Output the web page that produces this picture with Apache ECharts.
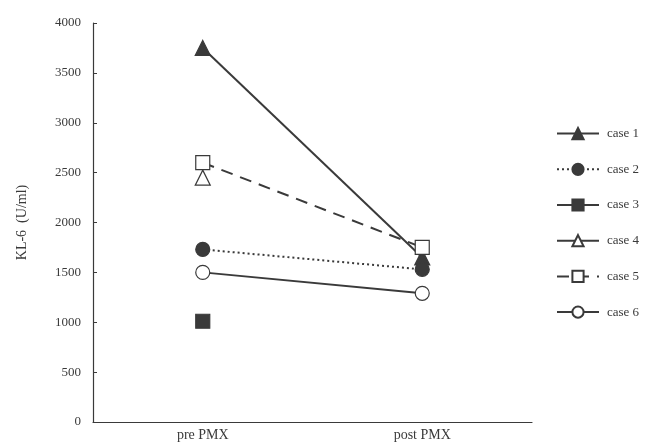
<!DOCTYPE html>
<html>
<head>
<meta charset="utf-8">
<script src="https://cdn.jsdelivr.net/npm/echarts@6/dist/echarts.min.js"></script>
<style>
  html, body { margin: 0; padding: 0; background: #fff; }
  #chart { width: 656px; height: 445px; }
</style>
</head>
<body>
<div id="chart"></div>
<script>
// x轴分类
const categories = ['pre PMX', 'post PMX']
// 各病例数值
const case1 = [3750, 1650]
const case2 = [1730, 1530]
const case3 = [1010, null]
const case4 = [2450, null]
const case5 = [2600, 1750]
const case6 = [1500, 1290]
const yTicks = [0, 500, 1000, 1500, 2000, 2500, 3000, 3500, 4000]

const ink = '#3a3a3a'
const font = '"Liberation Serif", "DejaVu Serif", serif'

function makeSeries(name, data, symbol, filled, lineType) {
  return {
    name: name,
    type: 'line',
    data: data,
    symbol: symbol,
    symbolSize: symbol === 'triangle' ? 15 : 14,
    connectNulls: false,
    lineStyle: { color: ink, width: 2, type: lineType },
    itemStyle: {
      color: filled ? ink : '#fff',
      borderColor: ink,
      borderWidth: 1.2,
    },
    showAllSymbol: true,
  }
}

let myChart = echarts.init(document.getElementById('chart'))
let option = {
  animation: false,
  backgroundColor: '#fff',
  textStyle: { fontFamily: font },
  grid: {
    left: 93,
    right: 124,
    top: 23,
    bottom: 23,
  },
  legend: {
    orient: 'vertical',
    left: 551,
    top: 122,
    itemWidth: 42,
    itemHeight: 14,
    itemGap: 22.5,
    textStyle: { color: ink, fontSize: 13, fontFamily: font, padding: [0, 0, 0, 3] },
    data: ['case 1', 'case 2', 'case 3', 'case 4', 'case 5', 'case 6'],
  },
  xAxis: {
    type: 'category',
    data: categories,
    boundaryGap: true,
    axisLine: { lineStyle: { color: ink, width: 1.2 } },
    axisTick: { inside: true, length: 5, lineStyle: { color: ink } },
    axisLabel: { color: ink, fontSize: 14, fontFamily: font, margin: 6 },
  },
  yAxis: {
    type: 'value',
    min: yTicks[0],
    max: yTicks[yTicks.length - 1],
    interval: 500,
    name: 'KL-6  (U/ml)',
    nameLocation: 'middle',
    nameGap: 64,
    nameTextStyle: { color: ink, fontSize: 14, fontFamily: font },
    splitLine: { show: false },
    axisLine: { show: true, lineStyle: { color: ink, width: 1.2 } },
    axisTick: { show: true, inside: true, length: 4, lineStyle: { color: ink } },
    axisLabel: {
      color: ink,
      fontSize: 13,
      fontFamily: font,
      margin: 12,
      formatter: (v) => String(v),
    },
  },
  series: [
    makeSeries('case 1', case1, 'triangle', true, 'solid'),
    makeSeries('case 2', case2, 'circle', true, [2, 3]),
    makeSeries('case 3', case3, 'rect', true, 'solid'),
    makeSeries('case 4', case4, 'triangle', false, 'solid'),
    makeSeries('case 5', case5, 'rect', false, [12, 8]),
    makeSeries('case 6', case6, 'circle', false, 'solid'),
  ],
}
myChart.setOption(option)
</script>
</body>
</html>
